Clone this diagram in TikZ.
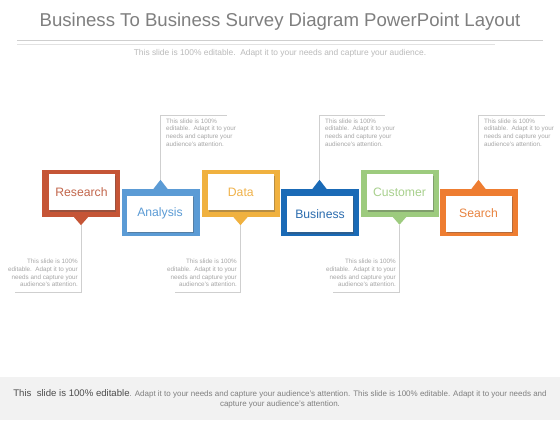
\documentclass[tikz,border=0pt]{standalone}
\usepackage{fontspec}
\setmainfont{Liberation Sans}
\usetikzlibrary{shadows,calc}
\definecolor{cR}{HTML}{C55536}
\definecolor{tR}{HTML}{C2664C}
\definecolor{cA}{HTML}{5B9BD5}
\definecolor{tA}{HTML}{5B9BD5}
\definecolor{cD}{HTML}{F0B13F}
\definecolor{tD}{HTML}{F0B24A}
\definecolor{cB}{HTML}{1A6AB6}
\definecolor{tB}{HTML}{2B6CAE}
\definecolor{cC}{HTML}{9DCB7E}
\definecolor{tC}{HTML}{A8D08D}
\definecolor{cS}{HTML}{EE7D31}
\definecolor{tS}{HTML}{E8833F}
\definecolor{lineG}{HTML}{CFCFCF}
\definecolor{txtG}{HTML}{A6A6A6}
\definecolor{titleG}{HTML}{7F7F7F}
\definecolor{footG}{HTML}{F2F2F2}
\tikzset{
  outerbox/.style={fill=#1, draw=none, minimum width=78bp, minimum height=47bp, inner sep=0pt},
  innerbox/.style={fill=white, draw=none, minimum width=66bp, minimum height=36bp, inner sep=0pt,
    text=#1, font=\fontsize{12.2bp}{14bp}\selectfont,
    drop shadow={shadow xshift=1.2bp, shadow yshift=-1.5bp, opacity=0.35, fill=black!70}},
  conn/.style={draw=lineG, line width=0.7bp},
  callL/.style={anchor=west, align=left, inner sep=0pt, text=txtG, font=\fontsize{6.3bp}{7.6bp}\selectfont},
  callR/.style={anchor=east, align=right, inner sep=0pt, text=txtG, font=\fontsize{6.3bp}{7.6bp}\selectfont},
}
\newcommand{\calltext}{This slide is 100\%\\ editable.\ \ Adapt it to your\\ needs and capture your\\ audience's attention.}
\begin{document}
\begin{tikzpicture}[x=1bp,y=-1bp]
\useasboundingbox (0,0) rectangle (560,420);
\fill[white] (0,0) rectangle (560,420);
% title
\node[text=titleG, font=\fontsize{18.6bp}{22bp}\selectfont, inner sep=0pt] (title) at (280,22) {Business To Business Survey Diagram PowerPoint Layout};
\coordinate (l1a) at (17,40.7); \coordinate (l1b) at (543,40.7);
\coordinate (l2a) at (17,44.3); \coordinate (l2b) at (495,44.3);
\draw[draw=lineG, line width=0.8bp] (l1a) -- (l1b);
\draw[draw=lineG!60, line width=0.6bp] (l2a) -- (l2b);
\node[text=lineG!90!black, font=\fontsize{8.4bp}{10bp}\selectfont, inner sep=0pt] (sub) at (280,53) {This slide is 100\% editable.\ \ Adapt it to your needs and capture your audience.};

% footer
\fill[footG] (0,377) rectangle (560,420);
\node[align=center, inner sep=0pt, text=titleG, font=\fontsize{8.0bp}{10bp}\selectfont] (foot) at (280,399) {{\color{black!70}\fontsize{9.6bp}{10bp}\selectfont This\ \ slide is 100\% editable}. Adapt it to your needs and capture your audience's attention. This slide is 100\% editable. Adapt it to your needs and\\ capture your audience's attention.};

% Research (pointer down)
\node[outerbox=cR] (rO) at (81,193.5) {};
\fill[cR] ($(rO.south)+(-7,0)$) -- ($(rO.south)+(7,0)$) -- ($(rO.south)+(0,8)$) -- cycle;
\coordinate (rT) at ($(rO.south)+(0,8)$);
\node[innerbox=tR] (rI) at (81.5,192.3) {Research};
\coordinate (rE) at (15,292);
\draw[conn] (rT) |- (rE);
\node[callR] (rC) at (78,273) {\calltext};

% Analysis (pointer up)
\node[outerbox=cA] (aO) at (160.5,212.5) {};
\fill[cA] ($(aO.north)+(-7,0)$) -- ($(aO.north)+(7,0)$) -- ($(aO.north)+(0,-9)$) -- cycle;
\coordinate (aT) at ($(aO.north)+(0,-9)$);
\node[innerbox=tA] (aI) at (160,213.8) {Analysis};
\coordinate (aE) at (227,115);
\draw[conn] (aT) |- (aE);
\node[callL] (aC) at (166,132.5) {\calltext};

% Data (pointer down)
\node[outerbox=cD] (dO) at (240.5,193.5) {};
\fill[cD] ($(dO.south)+(-7,0)$) -- ($(dO.south)+(7,0)$) -- ($(dO.south)+(0,8)$) -- cycle;
\coordinate (dT) at ($(dO.south)+(0,8)$);
\node[innerbox=tD] (dI) at (240.8,192.3) {Data};
\coordinate (dE) at (175,292);
\draw[conn] (dT) |- (dE);
\node[callR] (dC) at (237,273) {\calltext};

% Business (pointer up)
\node[outerbox=cB] (bO) at (319.5,212.5) {};
\fill[cB] ($(bO.north)+(-7,0)$) -- ($(bO.north)+(7,0)$) -- ($(bO.north)+(0,-9)$) -- cycle;
\coordinate (bT) at ($(bO.north)+(0,-9)$);
\node[innerbox=tB] (bI) at (320,214) {Business};
\coordinate (bE) at (385,115);
\draw[conn] (bT) |- (bE);
\node[callL] (bC) at (325,132.5) {\calltext};

% Customer (pointer down)
\node[outerbox=cC] (cO) at (399.5,193) {};
\fill[cC] ($(cO.south)+(-7,0)$) -- ($(cO.south)+(7,0)$) -- ($(cO.south)+(0,8)$) -- cycle;
\coordinate (cT) at ($(cO.south)+(0,8)$);
\node[innerbox=tC] (cI) at (399.5,192) {Customer};
\coordinate (cE) at (333,292);
\draw[conn] (cT) |- (cE);
\node[callR] (cC) at (396,273) {\calltext};

% Search (pointer up)
\node[outerbox=cS] (sO) at (478.5,212.5) {};
\fill[cS] ($(sO.north)+(-7,0)$) -- ($(sO.north)+(7,0)$) -- ($(sO.north)+(0,-9)$) -- cycle;
\coordinate (sT) at ($(sO.north)+(0,-9)$);
\node[innerbox=tS] (sI) at (478.5,213.5) {Search};
\coordinate (sE) at (545,115);
\draw[conn] (sT) |- (sE);
\node[callL] (sC) at (484,132.5) {\calltext};
\end{tikzpicture}
\end{document}
